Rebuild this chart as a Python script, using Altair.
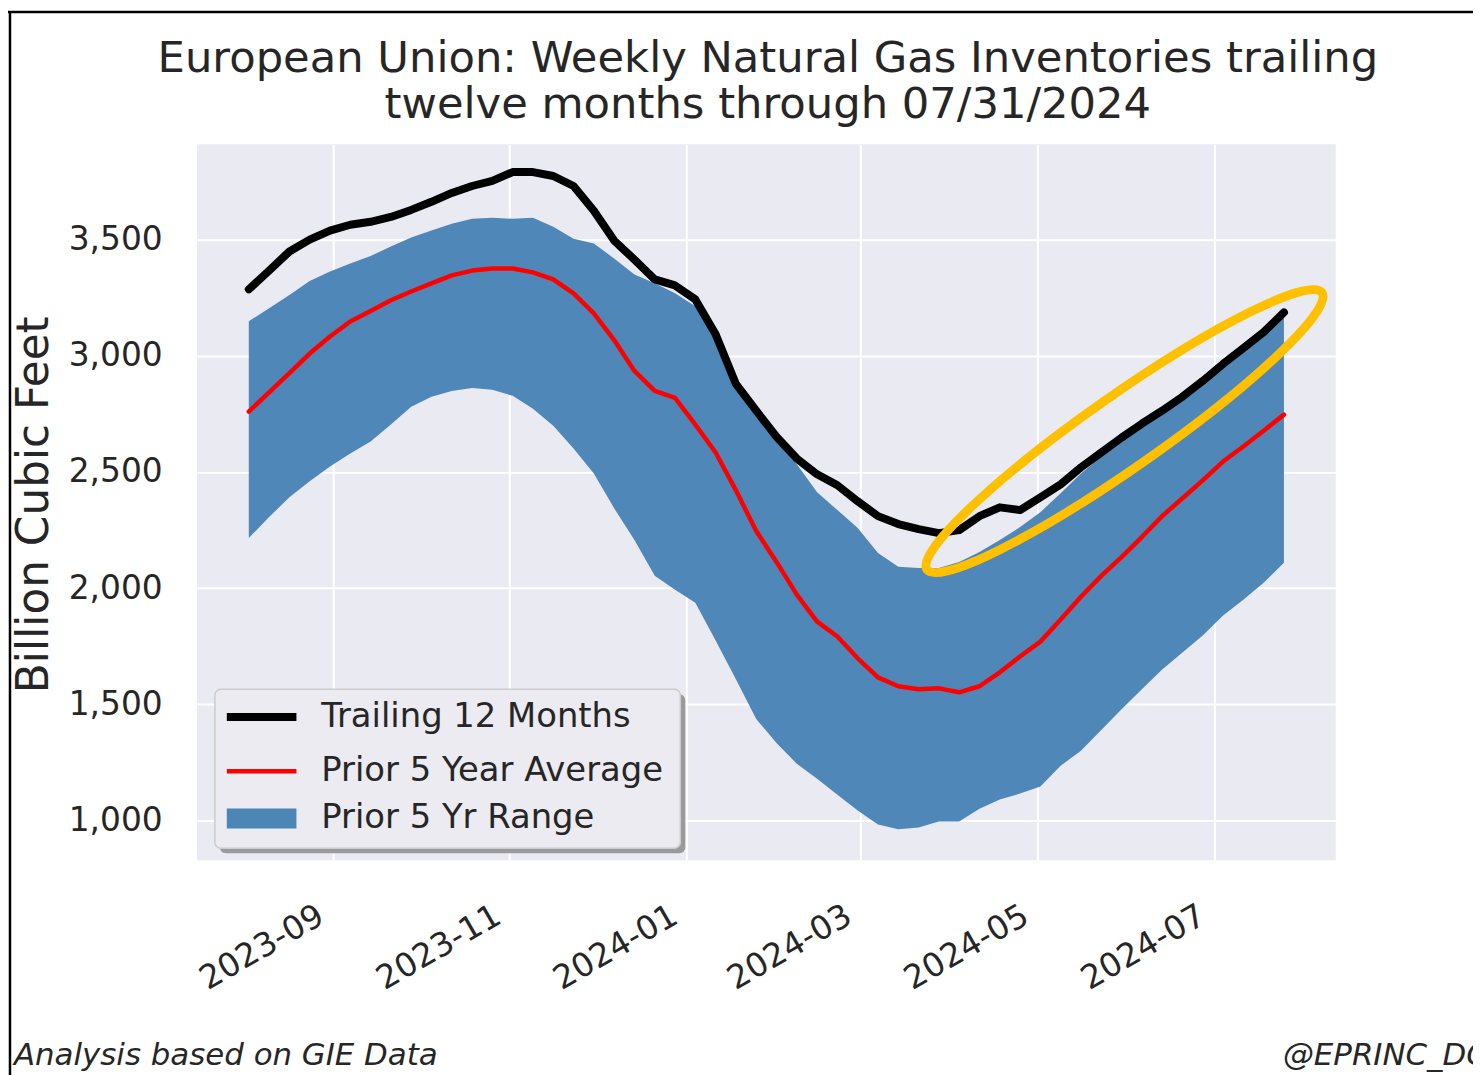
import altair as alt
import pandas as pd

# ---------------- data ----------------
dates = [
    "2023-08-03", "2023-08-10", "2023-08-17", "2023-08-24", "2023-08-31",
    "2023-09-07", "2023-09-14", "2023-09-21", "2023-09-28", "2023-10-05",
    "2023-10-12", "2023-10-19", "2023-10-26", "2023-11-02", "2023-11-09",
    "2023-11-16", "2023-11-23", "2023-11-30", "2023-12-07", "2023-12-14",
    "2023-12-21", "2023-12-28", "2024-01-04", "2024-01-11", "2024-01-18",
    "2024-01-25", "2024-02-01", "2024-02-08", "2024-02-15", "2024-02-22",
    "2024-02-29", "2024-03-07", "2024-03-14", "2024-03-21", "2024-03-28",
    "2024-04-04", "2024-04-11", "2024-04-18", "2024-04-25", "2024-05-02",
    "2024-05-09", "2024-05-16", "2024-05-23", "2024-05-30", "2024-06-06",
    "2024-06-13", "2024-06-20", "2024-06-27", "2024-07-04", "2024-07-11",
    "2024-07-18", "2024-07-25",
]

trailing_12m = [
    3286, 3367, 3449, 3500, 3539, 3564, 3577, 3598, 3628, 3663,
    3701, 3731, 3753, 3791, 3791, 3774, 3731, 3624, 3496, 3414,
    3329, 3303, 3243, 3093, 2879, 2764, 2652, 2558, 2490, 2443,
    2374, 2310, 2276, 2254, 2237, 2250, 2310, 2348, 2336, 2391,
    2447, 2520, 2584, 2648, 2708, 2764, 2824, 2892, 2965, 3033,
    3102, 3187,
]

avg_5yr = [
    2760, 2843, 2926, 3010, 3083, 3148, 3193, 3239, 3277, 3312,
    3346, 3367, 3376, 3376, 3359, 3329, 3269, 3183, 3068, 2935,
    2849, 2819, 2704, 2584, 2421, 2246, 2113, 1972, 1856, 1792,
    1698, 1616, 1578, 1565, 1569, 1552, 1578, 1638, 1706, 1770,
    1865, 1963, 2053, 2134, 2220, 2310, 2387, 2464, 2545, 2610,
    2678, 2747,
]

range_high = [
    3149, 3205, 3262, 3322, 3363, 3397, 3430, 3471, 3509, 3539,
    3569, 3590, 3594, 3590, 3594, 3556, 3504, 3483, 3419, 3350,
    3312, 3269, 3213, 3106, 2913, 2751, 2635, 2533, 2413, 2336,
    2259, 2151, 2092, 2087, 2087, 2113, 2156, 2207, 2263, 2327,
    2409, 2494, 2567, 2631, 2691, 2751, 2815, 2879, 2952, 3021,
    3093, 3175,
]

range_low = [
    2216, 2306, 2391, 2460, 2524, 2580, 2631, 2704, 2781, 2824,
    2849, 2862, 2854, 2828, 2772, 2699, 2601, 2494, 2344, 2207,
    2053, 1993, 1937, 1775, 1608, 1437, 1334, 1244, 1180, 1111,
    1043, 983, 962, 970, 996, 996, 1051, 1090, 1116, 1146,
    1236, 1300, 1390, 1479, 1565, 1650, 1723, 1796, 1882, 1950,
    2023, 2109,
]

line_names = ["Trailing 12 Months", "Prior 5 Year Average"]
line_colors = ["#000000", "#FF0000"]
line_widths = [8, 4.5]
band_name = ["Prior 5 Yr Range"]
band_color = ["#4682B4"]

x_tick_dates = [(2023, 9), (2023, 11), (2024, 1), (2024, 3), (2024, 5), (2024, 7)]
y_ticks = [1000, 1500, 2000, 2500, 3000, 3500]

title_lines = [
    "European Union: Weekly Natural Gas Inventories trailing",
    "twelve months through 07/31/2024",
]
y_title = "Billion Cubic Feet"
source_note = ["Analysis based on GIE Data"]
handle_note = ["@EPRINC_DC"]

highlight_date = ["2024-05-31"]
highlight_value = [2676]

# ---------------- frames ----------------
df_band = pd.DataFrame({
    "date": dates, "low": range_low, "high": range_high, "band": band_name * len(dates)
})
df_lines = pd.DataFrame({
    "date": dates + dates,
    "value": trailing_12m + avg_5yr,
    "series": [line_names[0]] * len(dates) + [line_names[1]] * len(dates),
})
df_hl = pd.DataFrame({"date": highlight_date, "value": highlight_value})
df_src = pd.DataFrame({"t": source_note})
df_handle = pd.DataFrame({"t": handle_note})
df_t1 = pd.DataFrame({"t": [title_lines[0]]})
df_t2 = pd.DataFrame({"t": [title_lines[1]]})
df_one = pd.DataFrame({"k": [0]})

FONT = "DejaVu Sans"
TXT = "#262626"
BG = "#EAEAF2"

x_scale = alt.Scale(
    type="utc",
    domain=[
        alt.DateTime(year=2023, month=7, date=16, hours=3, utc=True),
        alt.DateTime(year=2024, month=8, date=11, hours=21, utc=True),
    ],
)
x_axis = alt.Axis(
    values=[alt.DateTime(year=y, month=m, date=1, utc=True) for y, m in x_tick_dates],
    labelExpr="utcFormat(datum.value, '%Y-%m')", labelAngle=330, labelAlign="right",
    labelBaseline="top", labelFontSize=33, labelPadding=39, labelOffset=-20,
    labelLimit=400, title=None, grid=True,
)
y_scale = alt.Scale(domain=[829, 3911], nice=False, zero=False)
y_axis = alt.Axis(
    values=y_ticks, format=",d", labelFontSize=33, labelPadding=35,
    title=y_title, titleFontSize=44, titleAngle=270, titleX=-150, titleY=362,
    titleAlign="center", titleBaseline="alphabetic", grid=True,
)


def X():
    return alt.X("date:T", scale=x_scale, axis=x_axis)


def Y(field):
    return alt.Y(f"{field}:Q", scale=y_scale, axis=y_axis)


band_legend = alt.Legend(
    orient="none", legendX=30, legendY=643, title=None,
    labelFont=FONT, labelFontSize=34, labelColor=TXT, labelOffset=25, labelLimit=800,
    symbolType="M -1 -0.29 H 1 V 0.29 H -1 Z", symbolSize=4900, symbolOpacity=0.97,
    symbolStrokeWidth=0, padding=0,
)
band = alt.Chart(df_band).mark_area(opacity=0.95, interpolate="linear").encode(
    x=X(), y=Y("low"), y2="high:Q",
    fill=alt.Fill("band:N", scale=alt.Scale(domain=band_name, range=band_color), legend=band_legend),
)

line_legend = alt.Legend(
    orient="none", legendX=26, legendY=537, title=None, direction="vertical",
    labelFont=FONT, labelFontSize=34, labelColor=TXT, labelOffset=21, labelLimit=800,
    symbolType="stroke", symbolSize=4900, symbolOpacity=1,
    padding=0, rowPadding=-29,
)
lines = alt.Chart(df_lines).mark_line(strokeCap="round", strokeJoin="round").encode(
    x=X(),
    y=Y("value"),
    color=alt.Color("series:N", scale=alt.Scale(domain=line_names, range=line_colors), legend=line_legend),
    strokeWidth=alt.StrokeWidth(
        "series:N", scale=alt.Scale(type="ordinal", domain=line_names, range=line_widths), legend=line_legend
    ),
)

# legend frame and its drop shadow
shadow = alt.Chart(df_one).mark_rect(color="#9A9A9A", cornerRadius=6).encode(
    x=alt.value(23), x2=alt.value(491), y=alt.value(553), y2=alt.value(713),
)
frame = alt.Chart(df_one).mark_rect(
    fill="#EBEBF1", stroke="#CCCCCC", strokeWidth=1.5, cornerRadius=6
).encode(
    x=alt.value(18), x2=alt.value(486), y=alt.value(548), y2=alt.value(708),
)

ellipse_path = "M -1 0 A 1 0.15 0 1 1 1 0 A 1 0.15 0 1 1 -1 0 Z"
ellipse = alt.Chart(df_hl).mark_point(
    shape=ellipse_path, size=235225, angle=325, filled=False,
    stroke="#FFC000", strokeWidth=9, opacity=1,
).encode(x=X(), y=Y("value"))

title1 = alt.Chart(df_t1).mark_text(
    font=FONT, fontSize=43.5, color=TXT, align="center", baseline="alphabetic"
).encode(x=alt.value(574), y=alt.value(-73), text="t:N")
title2 = alt.Chart(df_t2).mark_text(
    font=FONT, fontSize=43.5, color=TXT, align="center", baseline="alphabetic"
).encode(x=alt.value(574), y=alt.value(-26), text="t:N")

src = alt.Chart(df_src).mark_text(
    font=FONT, fontSize=31, fontStyle="italic", color=TXT, align="left", baseline="alphabetic"
).encode(x=alt.value(-184), y=alt.value(926), text="t:N")

handle = alt.Chart(df_handle).mark_text(
    font=FONT, fontSize=31, fontStyle="italic", color=TXT, align="left", baseline="alphabetic"
).encode(x=alt.value(1092), y=alt.value(926), text="t:N")

border_top = alt.Chart(df_one).mark_rule(color="black", strokeWidth=2.5).encode(
    x=alt.value(-190), x2=alt.value(1290), y=alt.value(-133)
)
border_left = alt.Chart(df_one).mark_rule(color="black", strokeWidth=2.5).encode(
    x=alt.value(-188), y=alt.value(-134), y2=alt.value(940)
)

chart = alt.layer(
    band, lines, shadow, frame, ellipse, title1, title2, src, handle, border_top, border_left
).properties(
    width=1145,
    height=720,
    autosize=alt.AutoSizeParams(type="none"),
    padding={"left": 190, "top": 134, "right": 138, "bottom": 213},
    background="white",
).resolve_legend(
    color="independent", fill="independent", strokeWidth="independent"
).configure_view(
    fill=BG, stroke=None
).configure_axis(
    domain=False, ticks=False, gridColor="white", gridWidth=2, gridOpacity=1,
    labelFont=FONT, labelColor=TXT, titleFont=FONT, titleColor=TXT, titleFontWeight="normal",
)

chart.save("out.html", embed_options={"renderer": "svg", "actions": False})
